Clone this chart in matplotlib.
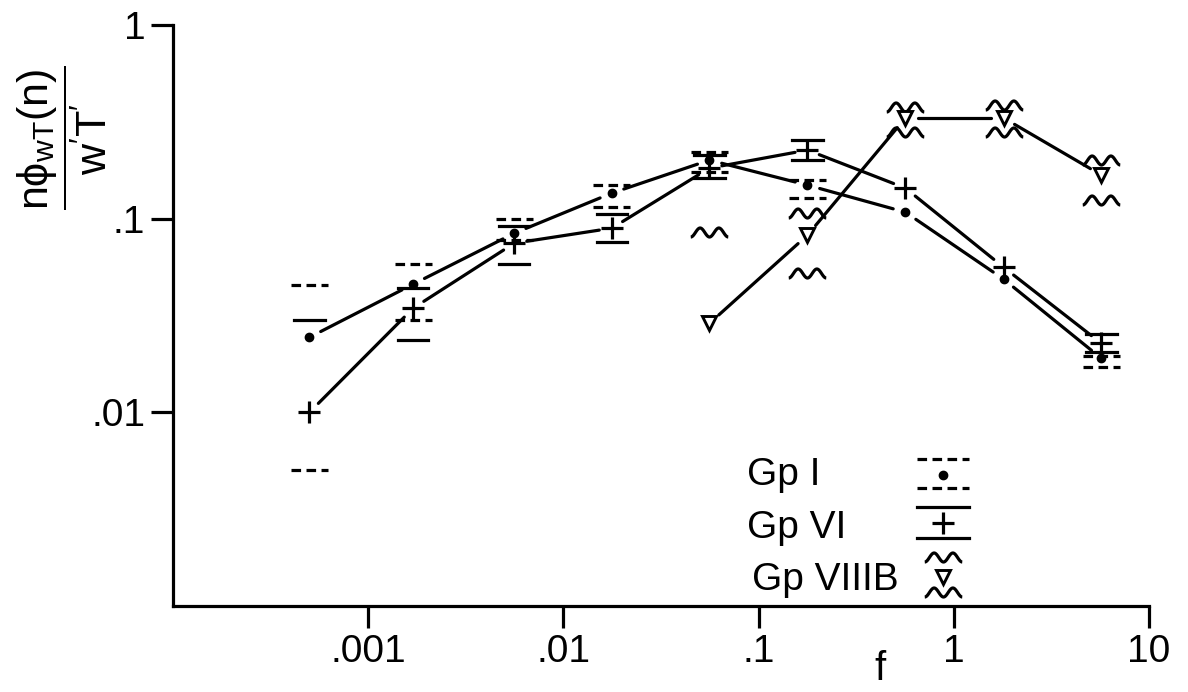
import numpy as np
import matplotlib
matplotlib.use("Agg")
import matplotlib.pyplot as plt
from matplotlib.path import Path

plt.rcParams['font.family'] = ['Liberation Sans', 'DejaVu Sans']
plt.rcParams['mathtext.fontset'] = 'dejavusans'
plt.rcParams['mathtext.default'] = 'regular'

# ──────────────────────────────────────────────
# DATA (log-log)
# ──────────────────────────────────────────────
freq = [5.0e-4, 1.7e-3, 5.6e-3, 0.0177, 0.056, 0.178, 0.565, 1.80, 5.7]

gp1 = [0.0244, 0.0459, 0.0841, 0.1355, 0.2006, 0.149, 0.108, 0.0487, 0.0190]
gp1_hi = [0.0453, 0.0582, 0.0994, 0.149, 0.221, 0.158, np.nan, np.nan, 0.0195]
gp1_lo = [0.00501, 0.0299, 0.0774, 0.1147, 0.174, 0.1276, np.nan, np.nan, 0.0171]

gp6 = [0.0100, 0.0345, 0.0747, 0.0893, 0.1824, 0.226, 0.1438, 0.0561, 0.0227]
gp6_hi = [0.0299, 0.0437, 0.0915, 0.1055, 0.213, 0.2545, np.nan, np.nan, 0.0253]
gp6_lo = [np.nan, 0.0236, 0.0582, 0.0756, 0.162, 0.2006, np.nan, np.nan, 0.0204]

freq8 = [0.056, 0.178, 0.565, 1.80, 5.7]
gp8 = [0.0288, 0.0822, 0.331, 0.331, 0.168]
gp8_hi = [0.0851, 0.1067, 0.377, 0.386, 0.2006]
gp8_lo = [np.nan, 0.0523, 0.280, 0.280, 0.1247]

xticks = [1e-3, 1e-2, 1e-1, 1, 10]
xticklabels = ['.001', '.01', '.1', '1', '10']
yticks = [0.01, 0.1, 1]
yticklabels = ['.01', '.1', '1']

LW = 2.3

# wavy bar marker
u = np.linspace(0, 1, 100)
wave_verts = np.column_stack([2 * u - 1, -0.24 * np.cos(4 * np.pi * u)])
WAVE = Path(wave_verts, [Path.MOVETO] + [Path.LINETO] * (len(u) - 1))
WAVE_MS = 27


def gapped_line(ax, xs, ys, gap=0.065):
    # segments between points, stopping short of each marker (in decades)
    lx, ly = np.log10(xs), np.log10(ys)
    for i in range(len(lx) - 1):
        d = np.array([lx[i + 1] - lx[i], ly[i + 1] - ly[i]])
        d = d / np.hypot(*d)
        a = np.array([lx[i], ly[i]]) + d * gap
        b = np.array([lx[i + 1], ly[i + 1]]) - d * gap
        ax.plot(10 ** np.array([a[0], b[0]]), 10 ** np.array([a[1], b[1]]),
                color='black', lw=LW, solid_capstyle='round')


def hbars(ax, xs, ys, half, **kw):
    for x, y in zip(xs, ys):
        if np.isnan(y):
            continue
        ax.plot([x * 10 ** -half, x * 10 ** half], [y, y], color='black', lw=LW, **kw)


fig = plt.figure(figsize=(11.88, 6.92), dpi=100)
ax = fig.add_axes([173 / 1188, 1 - 606 / 692, 976 / 1188, 581 / 692])
ax.set_xscale('log')
ax.set_yscale('log')
ax.set_xlim(1e-4, 10)
ax.set_ylim(1e-3, 1)

gapped_line(ax, freq, gp1)
gapped_line(ax, freq, gp6)
gapped_line(ax, freq8, gp8)

dash = (0, (3.0, 1.7))
hbars(ax, freq, gp1_hi, 0.095, linestyle=dash)
hbars(ax, freq, gp1_lo, 0.095, linestyle=dash)
hbars(ax, freq, gp6_hi, 0.078)
hbars(ax, freq, gp6_lo, 0.078)
for arr in (gp8_hi, gp8_lo):
    ax.plot(freq8, arr, linestyle='none', marker=WAVE, ms=WAVE_MS, mfc='none',
            mec='black', mew=LW)

ax.plot(freq, gp1, 'o', color='black', ms=6, linestyle='none')
ax.plot(freq, gp6, '+', color='black', ms=16, mew=2.3, linestyle='none')
ax.plot(freq8, gp8, 'v', mfc='white', mec='black', ms=9.5, mew=2.1, linestyle='none')

# legend drawn by hand
lx = 0.789
tx = 0.588
kw = dict(transform=ax.transAxes, fontsize=28, va='baseline', ha='left')
ax.text(tx, 0.208, 'Gp I', **kw)
ax.text(tx, 0.117, 'Gp VI', **kw)
ax.text(tx + 0.005, 0.0275, 'Gp VIIIB', **kw)
for yy in (0.253, 0.203):
    ax.plot([lx - 0.027, lx + 0.027], [yy, yy], transform=ax.transAxes,
            color='black', lw=LW, linestyle=dash)
ax.plot([lx], [0.2255], 'o', color='black', ms=6, transform=ax.transAxes)
for yy in (0.170, 0.117):
    ax.plot([lx - 0.027, lx + 0.027], [yy, yy], transform=ax.transAxes,
            color='black', lw=LW)
ax.plot([lx], [0.143], '+', color='black', ms=16, mew=2.3, transform=ax.transAxes)
for yy in (0.0843, 0.024):
    ax.plot([lx], [yy], marker=WAVE, ms=WAVE_MS, mfc='none', mec='black', mew=LW,
            transform=ax.transAxes, clip_on=False)
ax.plot([lx], [0.050], 'v', mfc='white', mec='black', ms=9.5, mew=2.1,
        transform=ax.transAxes)

# axes styling
for s in ('top', 'right'):
    ax.spines[s].set_visible(False)
for s in ('left', 'bottom'):
    ax.spines[s].set_linewidth(LW)
ax.set_xticks(xticks)
ax.set_xticklabels(xticklabels)
ax.set_yticks(yticks)
ax.set_yticklabels(yticklabels)
ax.minorticks_off()
ax.tick_params(direction='out', length=16, width=LW, labelsize=28, pad=4)

fig.text(62 / 1188, 1 - 138 / 692, r"$\dfrac{n\phi_{wT}(n)}{w'T'}$",
         rotation=90, fontsize=31, ha='center', va='center')
fig.text(880 / 1188, 1 - 669 / 692, 'f', fontsize=29, ha='center', va='center')

fig.savefig('out.png', dpi=100, facecolor='white')
